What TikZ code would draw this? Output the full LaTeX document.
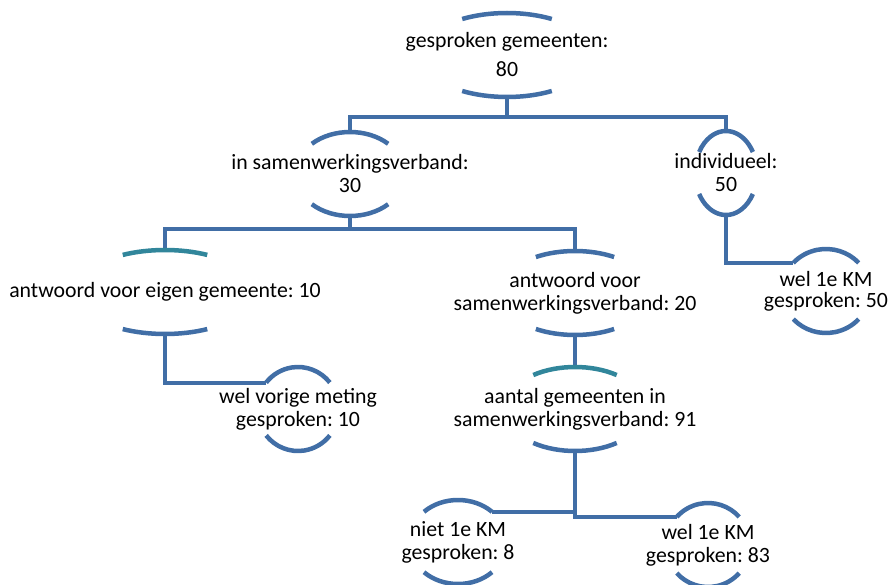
\documentclass[tikz,border=0pt]{standalone}
\usepackage{fontspec}
\setmainfont{Carlito}
\frenchspacing
\definecolor{boogblauw}{RGB}{65,110,166}
\definecolor{boogteal}{RGB}{49,134,155}
\pgfdeclarelayer{achter}
\pgfsetlayers{achter,main}
\tikzset{
  tekst/.style={align=center, text=black, font=\fontsize{21.8}{23}\selectfont, inner sep=0pt},
  boog/.style={draw=boogblauw, line width=4.5pt},
  lijn/.style={draw=boogblauw, line width=4pt},
}
% upper and lower arc of a node: name, x radius, angle, colour of upper arc
\newcommand{\bogen}[4]{%
  \draw[boog,draw=#4] ([shift={(#3:#2pt and 42pt)}]#1.center)
    arc[start angle=#3, end angle=180-#3, x radius=#2pt, y radius=42pt];
  \draw[boog] ([shift={(180+#3:#2pt and 42pt)}]#1.center)
    arc[start angle=180+#3, end angle=360-#3, x radius=#2pt, y radius=42pt];
  \coordinate (#1-t) at ([yshift=42pt]#1.center);
  \coordinate (#1-b) at ([yshift=-42pt]#1.center);
  \coordinate (#1-tl) at ([shift={(180-#3:#2pt and 42pt)}]#1.center);
  \coordinate (#1-tr) at ([shift={(#3:#2pt and 42pt)}]#1.center);
}

\begin{document}
\begin{tikzpicture}[x=1pt,y=-1pt]
  \useasboundingbox (0,0) rectangle (889,585);
  % text
  \node[tekst] (wortel) at (507,55) {gesproken gemeenten:\\[6pt]80};
  \node[tekst] (samen) at (350,174) {in samenwerkingsverband:\\30};
  \node[tekst] (indiv) at (726,173) {individueel:\\50};
  \node[tekst] (wel50) at (826,291) {wel 1e KM\\[-2pt]gesproken: 50};
  \node[tekst] (eigen) at (165,292) {antwoord voor eigen gemeente: 10};
  \node[tekst] (vorige) at (298,409) {wel vorige meting\\gesproken: 10};
  \node[tekst] (swv) at (575,293) {antwoord voor\\samenwerkingsverband: 20};
  \node[tekst] (aantal) at (575,409) {aantal gemeenten in\\samenwerkingsverband: 91};
  \node[tekst] (niet8) at (458,542) {niet 1e KM\\gesproken: 8};
  \node[tekst] (wel83) at (708,545) {wel 1e KM\\gesproken: 83};
  % arcs
  \bogen{wortel}{87}{59}{boogblauw}
  \bogen{samen}{55}{46}{boogblauw}
  \bogen{indiv}{31}{30}{boogblauw}
  \bogen{wel50}{44}{42}{boogblauw}
  \bogen{eigen}{90}{62}{boogteal}
  \bogen{vorige}{41}{39}{boogblauw}
  \bogen{swv}{76}{59}{boogblauw}
  \bogen{aantal}{71}{54}{boogteal}
  \bogen{niet8}{49}{46}{boogblauw}
  \bogen{wel83}{42}{42}{boogblauw}
  % connectors
  \begin{pgfonlayer}{achter}
    \draw[lijn] (wortel-b) -- ++(0,20) -| (samen-t);
    \draw[lijn] (wortel-b) -- ++(0,20) -| (indiv-t);
    \draw[lijn] (samen-b) -- ++(0,13) -| (eigen-t);
    \draw[lijn] (samen-b) -- ++(0,13) -| (swv-t);
    \draw[lijn] (indiv-b) |- (wel50-tl);
    \draw[lijn] (eigen-b) |- (vorige-tl);
    \draw[lijn] (swv-b) -- (aantal-t);
    \draw[lijn] (aantal-b) |- (niet8-tr);
    \draw[lijn] (aantal-b) |- (wel83-tl);
  \end{pgfonlayer}
\end{tikzpicture}
\end{document}
